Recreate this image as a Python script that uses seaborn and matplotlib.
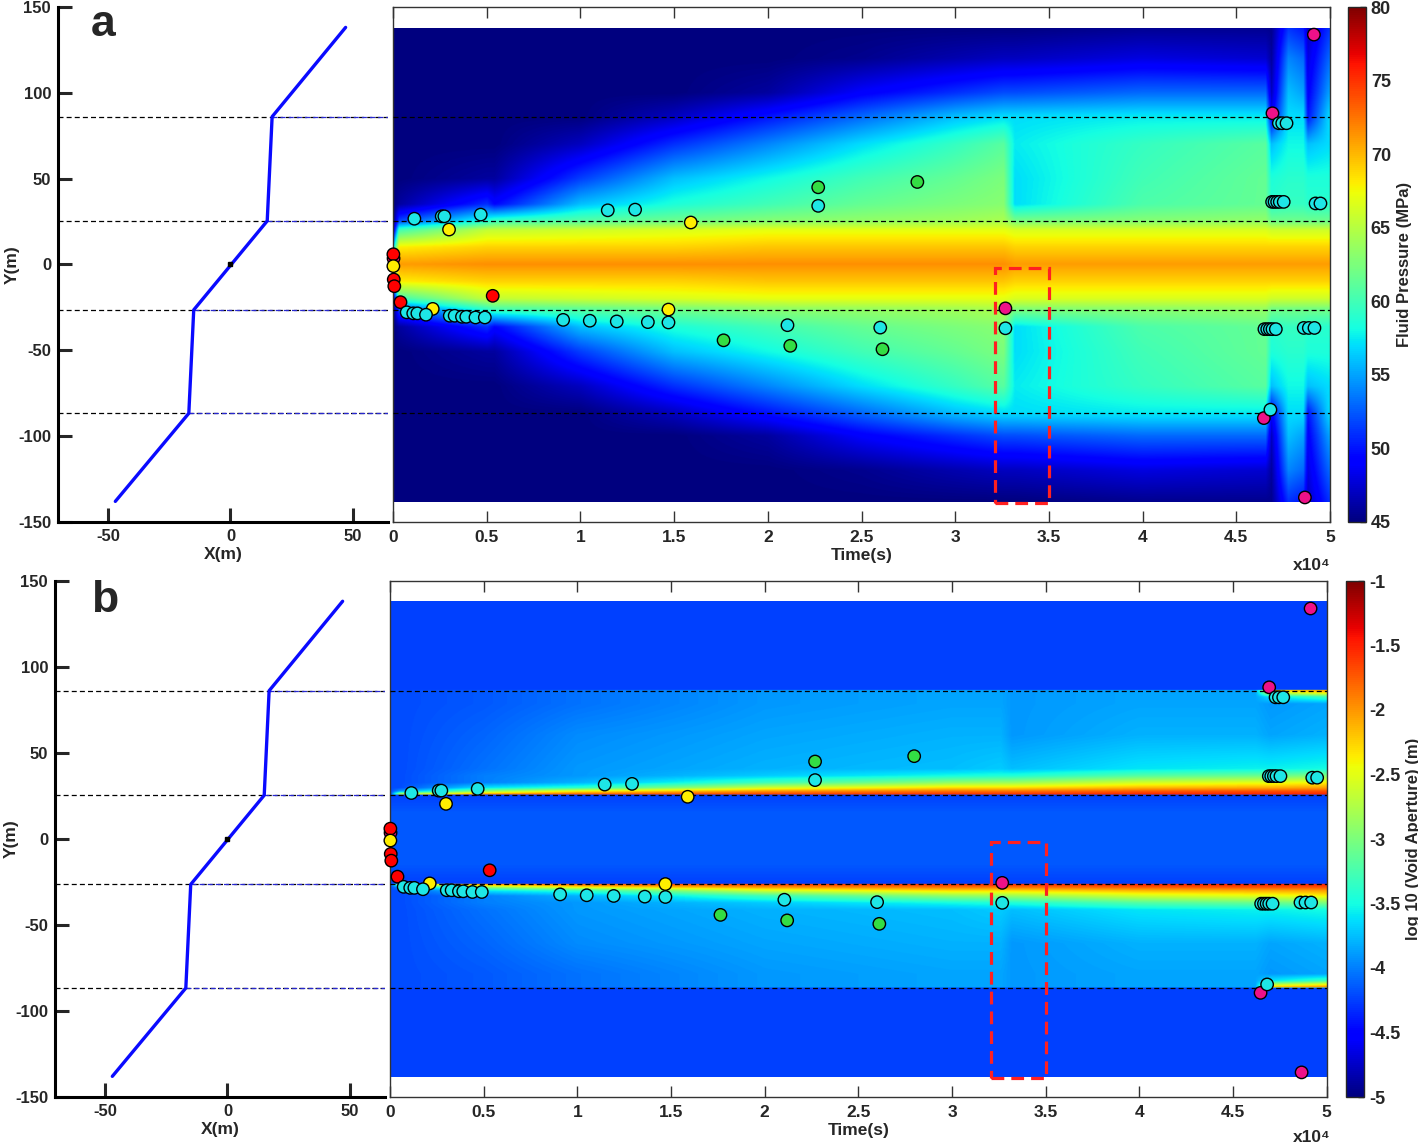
import numpy as np
import pandas as pd
import matplotlib
matplotlib.use('Agg')
import matplotlib.pyplot as plt
from matplotlib.patches import Rectangle
from matplotlib.ticker import MultipleLocator, FormatStrFormatter
import seaborn as sns

sns.set_style('ticks')
plt.rcParams['font.family'] = ['Liberation Sans', 'DejaVu Sans']
plt.rcParams['font.weight'] = 'bold'
plt.rcParams['axes.labelweight'] = 'bold'
plt.rcParams['axes.unicode_minus'] = False

# ---- fault trace (left panels) ----
fault_x = [-47, -17, -15, 15, 17, 47]
fault_y = [-138, -86.7, -26.5, 25.3, 86, 138]
segment_y = [86, 25.3, -26.5, -86.7]
kink_x = [17, 15, -15, -17]

# ---- events (time in s, Y in m), listed in drawing order ----
ev_time = [30, 20, 40, 70, 400, 5320, 20,
           2120, 2990, 14700, 15890,
           1140, 2600, 2740, 4680, 730, 1080, 1300, 1760,
           3030, 3290, 3680, 3910, 4400, 4900,
           9080, 10500, 11940, 13600, 14700, 11460, 12920,
           21050, 22690, 26000, 32680,
           17640, 21200, 22690, 27980, 26120,
           32680, 49140, 46930, 46470, 48660,
           47270, 47450, 47680,
           46910, 47040, 47180, 47320, 47530,
           49230, 49490,
           46500, 46650, 46790, 46930, 47110,
           48600, 48870, 49170,
           46820]
ev_y = [3.5, 5.9, -8.8, -12.7, -22.0, -18.3, -1.0,
        -25.9, 20.3, -26.3, 24.4,
        26.6, 28.0, 28.0, 29.0, -27.9, -28.5, -28.5, -29.3,
        -29.9, -29.9, -30.5, -30.5, -30.9, -30.9,
        -32.3, -32.8, -33.2, -33.6, -33.8, 31.5, 31.9,
        -35.4, 34.1, -36.8, -37.2,
        -44.2, -47.4, 44.9, 48.0, -49.4,
        -25.6, 133.8, 88.0, -89.5, -135.7,
        82.2, 82.2, 82.2,
        36.4, 36.4, 36.4, 36.4, 36.4,
        35.5, 35.5,
        -37.7, -37.7, -37.7, -37.7, -37.7,
        -37.0, -37.0, -37.0,
        -84.6]
ev_kind = ['magenta', 'red', 'red', 'red', 'red', 'red', 'yellow',
           'yellow', 'yellow', 'yellow', 'yellow'] + ['cyan'] * 25 + \
          ['green'] * 5 + ['magenta'] * 5 + ['cyan'] * 19
palette = {'red': '#ff0000', 'yellow': '#ffee00', 'cyan': '#1ee6e6',
           'green': '#33dd44', 'magenta': '#ee1188'}

# ---- panel a: fluid pressure (MPa), half-profile rows by |Y| ----
pa_time = [0, 300, 5000, 5400, 10000, 15000, 20000, 25000, 30000, 32600,
           33200, 40000, 46600, 46900, 47800, 48600, 48850, 50000]
pa_y_up = [0, 10, 20, 25, 35, 50, 70, 86, 100, 120, 138.5]
pa_y_lo = [0, -10, -20, -26.5, -36.5, -51, -71, -86.7, -100, -120, -138.5]
pa_vals = [
    [66, 71, 71.5, 71.5, 71.5, 71.5, 71.5, 71.5, 71.5, 71.5, 71, 71, 71, 71, 71, 71, 71, 71],
    [57, 68, 69, 69, 69, 69, 69.5, 69.5, 69.5, 69.5, 69, 69, 69, 69, 69, 69, 69, 69],
    [47, 60, 65.5, 65.5, 66, 66.5, 67, 67, 67, 67, 66.5, 66.5, 66.5, 66, 66, 66, 66, 66],
    [45, 52, 59, 60, 61, 62, 63, 63.5, 64, 64.5, 62.5, 63, 63.5, 62, 62, 62, 62, 62],
    [45, 46, 51, 49.5, 56, 58.5, 60, 61.5, 62.5, 63, 57, 60.5, 61.5, 59, 59.5, 59.5, 59, 59],
    [45, 45, 46, 46, 51.5, 56, 58, 60, 61.5, 62.5, 57, 60, 61.5, 58.5, 59, 59, 58.5, 58.5],
    [45, 45, 45, 45, 47, 51, 54, 57, 59.5, 61, 57.5, 59.5, 61, 56, 58, 58, 56, 57],
    [45, 45, 45, 45, 45, 47, 50, 53, 56, 57, 57, 57.5, 57.5, 49, 57, 57, 50, 57],
    [45, 45, 45, 45, 45, 45, 46, 49, 51, 52, 52, 53, 53, 47, 56, 55, 49, 55],
    [45, 45, 45, 45, 45, 45, 45, 45.5, 46.5, 47, 47, 48, 47.5, 46, 54, 53, 48, 53],
    [45, 45, 45, 45, 45, 45, 45, 45, 45, 45, 45, 45.5, 45.5, 45.5, 51, 50, 47, 51],
]

# ---- panel b: log10 void aperture (m) ----
pb_time = [0, 500, 5000, 10000, 20000, 30000, 32600, 33200, 40000, 46200, 47000, 50000]
pb_y_up = [0, 15, 25.2, 25.4, 27.3, 29.3, 32.3, 36.3, 40.3, 60, 78, 82, 84,
           85.9, 86.1, 110, 138.5]
pb_y_lo = [0, -15, -26.4, -26.6, -28.5, -30.5, -33.5, -37.5, -41.5, -61, -78.7,
           -82.7, -84.7, -86.6, -86.8, -110, -138.5]
pb_vals = [
    [-4.15] * 12,
    [-4.15] * 12,
    [-4.25] * 12,
    [-4.2, -2.6, -1.9, -1.7, -1.6, -1.55, -1.55, -1.55, -1.5, -1.5, -1.5, -1.5],
    [-4.2, -3.9, -2.9, -2.4, -2.0, -1.85, -1.85, -1.85, -1.75, -1.7, -1.7, -1.7],
    [-4.2, -4.2, -3.6, -3.4, -2.6, -2.3, -2.3, -2.3, -2.15, -2.1, -2.1, -2.05],
    [-4.2, -4.2, -4.0, -3.8, -3.3, -2.9, -2.85, -2.85, -2.6, -2.5, -2.5, -2.4],
    [-4.2, -4.2, -4.0, -3.9, -3.7, -3.5, -3.45, -3.45, -3.2, -3.1, -3.1, -3.0],
    [-4.2, -4.2, -4.05, -3.9, -3.8, -3.75, -3.7, -3.75, -3.6, -3.55, -3.55, -3.5],
    [-4.2, -4.2, -4.1, -3.95, -3.85, -3.8, -3.8, -3.9, -3.8, -3.8, -3.85, -3.8],
    [-4.2, -4.2, -4.15, -4.05, -3.9, -3.85, -3.85, -3.9, -3.85, -3.85, -3.9, -3.85],
    [-4.2, -4.2, -4.15, -4.05, -3.9, -3.85, -3.85, -3.9, -3.85, -3.85, -3.6, -3.3],
    [-4.2, -4.2, -4.15, -4.05, -3.9, -3.85, -3.85, -3.9, -3.85, -3.85, -2.8, -2.5],
    [-4.2, -4.2, -4.15, -4.05, -3.9, -3.85, -3.85, -3.9, -3.85, -3.85, -2.1, -1.9],
    [-4.25] * 12,
    [-4.25] * 12,
    [-4.25] * 12,
]

# highlighted window (s, m)
box_t = (32100, 35000)
box_y = (-139, -2)


def build_field(t_nodes, y_up, y_lo, table, nt=1000, ny=1200):
    y_nodes = np.array(y_lo[::-1] + y_up[1:])
    vals = np.array(table[::-1] + table[1:], dtype=float)
    t_grid = np.linspace(0, 50000, nt)
    y_grid = np.linspace(-138.5, 137.5, ny)
    cols = np.array([np.interp(y_grid, y_nodes, vals[:, j]) for j in range(len(t_nodes))]).T
    return np.array([np.interp(t_grid, t_nodes, row) for row in cols])


W, H = 1418, 1147


def box(x0, y0, x1, y1):
    return [x0 / W, 1 - y1 / H, (x1 - x0) / W, (y1 - y0) / H]


fig = plt.figure(figsize=(W / 100, H / 100), dpi=100)
df = pd.DataFrame({'t': np.array(ev_time) / 1e4, 'y': ev_y, 'kind': ev_kind})

rows = [
    dict(left=box(58, 6.8, 388, 522), right=box(393, 6.8, 1330, 522),
         cbar=box(1348, 7, 1366, 522), letter='a', lpos=(103, 25), xpos=(1312, 565),
         ylab_x=(20 - 58) / 330,
         field=build_field(pa_time, pa_y_up, pa_y_lo, pa_vals), vmin=45, vmax=80,
         cticks=np.arange(45, 81, 5), clabel='Fluid Pressure (MPa)'),
    dict(left=box(55, 580.6, 385, 1097), right=box(390, 580.6, 1326.7, 1097),
         cbar=box(1346, 581, 1364, 1097), letter='b', lpos=(105, 600), xpos=(1312, 1138),
         ylab_x=(19 - 55) / 330,
         field=build_field(pb_time, pb_y_up, pb_y_lo, pb_vals), vmin=-5, vmax=-1,
         cticks=np.arange(-5, -0.99, 0.5), clabel='log 10 (Void Aperture) (m)'),
]

for r in rows:
    # ---- left: fault geometry ----
    axl = fig.add_axes(r['left'])
    xl = (-70.4, 64.3)
    for y, kx in zip(segment_y, kink_x):
        axl.plot(xl, [y, y], color='k', lw=0.9, ls=(0, (4, 2.5)))
        axl.plot([kx, xl[1]], [y, y], color='#2828d0', lw=0.9, ls=(0, (4, 2.5)))
    sns.lineplot(x=fault_x, y=fault_y, sort=False, estimator=None, color='#0a0aff',
                 lw=2.4, ax=axl)
    axl.plot([0], [0], 's', color='k', ms=2.5)
    axl.set_xlim(xl)
    axl.set_ylim(-150, 150)
    axl.set_xticks([-50, 0, 50])
    axl.set_yticks(np.arange(-150, 151, 50))
    sns.despine(ax=axl)
    for s in ('left', 'bottom'):
        axl.spines[s].set_linewidth(2.2)
        axl.spines[s].set_color('k')
    axl.tick_params(direction='in', length=10, width=2.2, labelsize=12, pad=5)
    axl.set_xlabel('X(m)', fontsize=12.5, labelpad=2)
    axl.set_ylabel('Y(m)', fontsize=12.5)
    axl.yaxis.set_label_coords(r['ylab_x'], 0.5)
    axl.set_facecolor('none')

    # ---- right: field over time ----
    axr = fig.add_axes(r['right'])
    im = axr.imshow(r['field'], extent=(0, 5, -138.5, 137.5), origin='lower', aspect='auto',
                    cmap='jet', vmin=r['vmin'], vmax=r['vmax'])
    for y in segment_y:
        axr.axhline(y, color='k', lw=0.9, ls=(0, (4, 2.5)), zorder=3)
    axr.add_patch(Rectangle((box_t[0] / 1e4, box_y[0]), (box_t[1] - box_t[0]) / 1e4,
                            box_y[1] - box_y[0], fill=False, ec='#ff2020', lw=2.3,
                            ls=(0, (4, 2.2)), zorder=6))
    sns.scatterplot(data=df, x='t', y='y', hue='kind', palette=palette, s=80,
                    edgecolor='k', linewidth=1.0, legend=False, ax=axr, zorder=5)
    axr.collections[-1].set_clip_on(False)
    axr.set_xlim(0, 5)
    axr.set_ylim(-150, 150)
    axr.set_yticks([])
    axr.xaxis.set_major_locator(MultipleLocator(0.5))
    axr.xaxis.set_major_formatter(FormatStrFormatter('%g'))
    axr.tick_params(axis='x', direction='in', top=True, bottom=True, length=8, width=1,
                    labelsize=12.5, pad=6, color='#333333')
    for s in axr.spines.values():
        s.set_linewidth(1.0)
        s.set_color('#333333')
    axr.set_xlabel('Time(s)', fontsize=12.5, labelpad=2)
    axr.set_ylabel('')

    # ---- colorbar ----
    cax = fig.add_axes(r['cbar'])
    cb = fig.colorbar(im, cax=cax, ticks=r['cticks'])
    cb.ax.yaxis.set_major_formatter(FormatStrFormatter('%g'))
    cb.ax.tick_params(labelsize=13, direction='in', length=4, width=1)
    cb.outline.set_linewidth(1.0)
    cb.set_label(r['clabel'], fontsize=12, fontweight='bold', labelpad=4)

    fig.text(r['lpos'][0] / W, 1 - r['lpos'][1] / H, r['letter'], fontsize=32,
             fontweight='bold', ha='center', va='center')
    fig.text(r['xpos'][0] / W, 1 - r['xpos'][1] / H, 'x10\u2074', fontsize=12.5,
             fontweight='bold', ha='center', va='center')

fig.savefig('out.png', dpi=100)
